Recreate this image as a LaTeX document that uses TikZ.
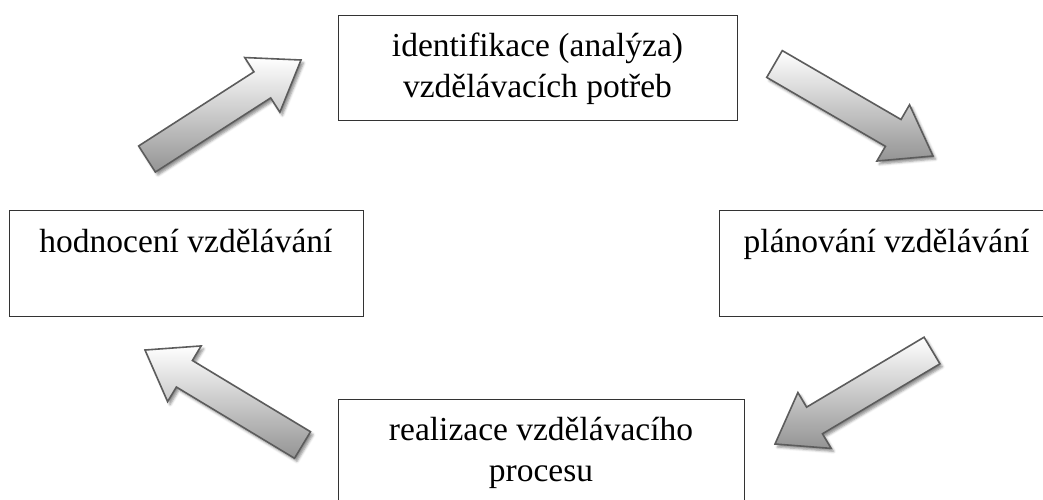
\documentclass[tikz,border=0pt]{standalone}
\usepackage{fontspec}
\setmainfont{Liberation Serif}
\usetikzlibrary{calc,shadows.blur}

% block arrow from tail midpoint #1 to tip #2
\newcommand\cyclearrow[2]{%
  \path[arrowbody]
    ($(#1)!15.5pt!90:(#2)$) --
    ($(#2)!46pt!(#1)!15.5pt!-90:(#1)$) --
    ($(#2)!46pt!(#1)!32.5pt!-90:(#1)$) --
    (#2) --
    ($(#2)!46pt!(#1)!32.5pt!90:(#1)$) --
    ($(#2)!46pt!(#1)!15.5pt!90:(#1)$) --
    ($(#1)!15.5pt!-90:(#2)$) -- cycle;}

\begin{document}
\begin{tikzpicture}[x=1pt,y=-1pt,
  stagebox/.style={draw=black!80,line width=1.3pt,fill=white,anchor=north west,
    inner sep=0pt},
  lbl/.style={font=\fontsize{33.5}{40}\selectfont,anchor=base,inner sep=0pt,text=black},
  arrowbody/.style={draw=black!64,line width=1.6pt,top color=white,bottom color=black!42,
    blur shadow={shadow xshift=2.5pt,shadow yshift=-3pt,shadow blur radius=2.5pt,
      shadow opacity=45}}]
\useasboundingbox (0,0) rectangle (1043,499);

% stage boxes
\node[stagebox,minimum width=399pt,minimum height=105pt] (ident) at (338,15) {};
\node[stagebox,minimum width=335pt,minimum height=106pt] (plan) at (719,210) {};
\node[stagebox,minimum width=406pt,minimum height=110pt] (real) at (338,399) {};
\node[stagebox,minimum width=354pt,minimum height=106pt] (eval) at (9,210) {};

% box texts
\node[lbl] (ident1) at (537.5,56.5) {identifikace (analýza)};
\node[lbl] (ident2) at (537.5,97.5) {vzdělávacích potřeb};
\node[lbl] (plan1) at (886.5,252) {plánování vzdělávání};
\node[lbl] (real1) at (541,440.5) {realizace vzdělávacího};
\node[lbl] (real2) at (541,481.5) {procesu};
\node[lbl] (eval1) at (186,252.5) {hodnocení vzdělávání};

% arrow ends
\coordinate (a1t) at (147,159);   \coordinate (a1h) at (301,60);
\coordinate (a2t) at (774.5,64);  \coordinate (a2h) at (933,156);
\coordinate (a3t) at (932,350.5); \coordinate (a3h) at (775,444);
\coordinate (a4t) at (302.5,445); \coordinate (a4h) at (145,350);

\cyclearrow{a1t}{a1h}
\cyclearrow{a2t}{a2h}
\cyclearrow{a3t}{a3h}
\cyclearrow{a4t}{a4h}
\end{tikzpicture}
\end{document}
